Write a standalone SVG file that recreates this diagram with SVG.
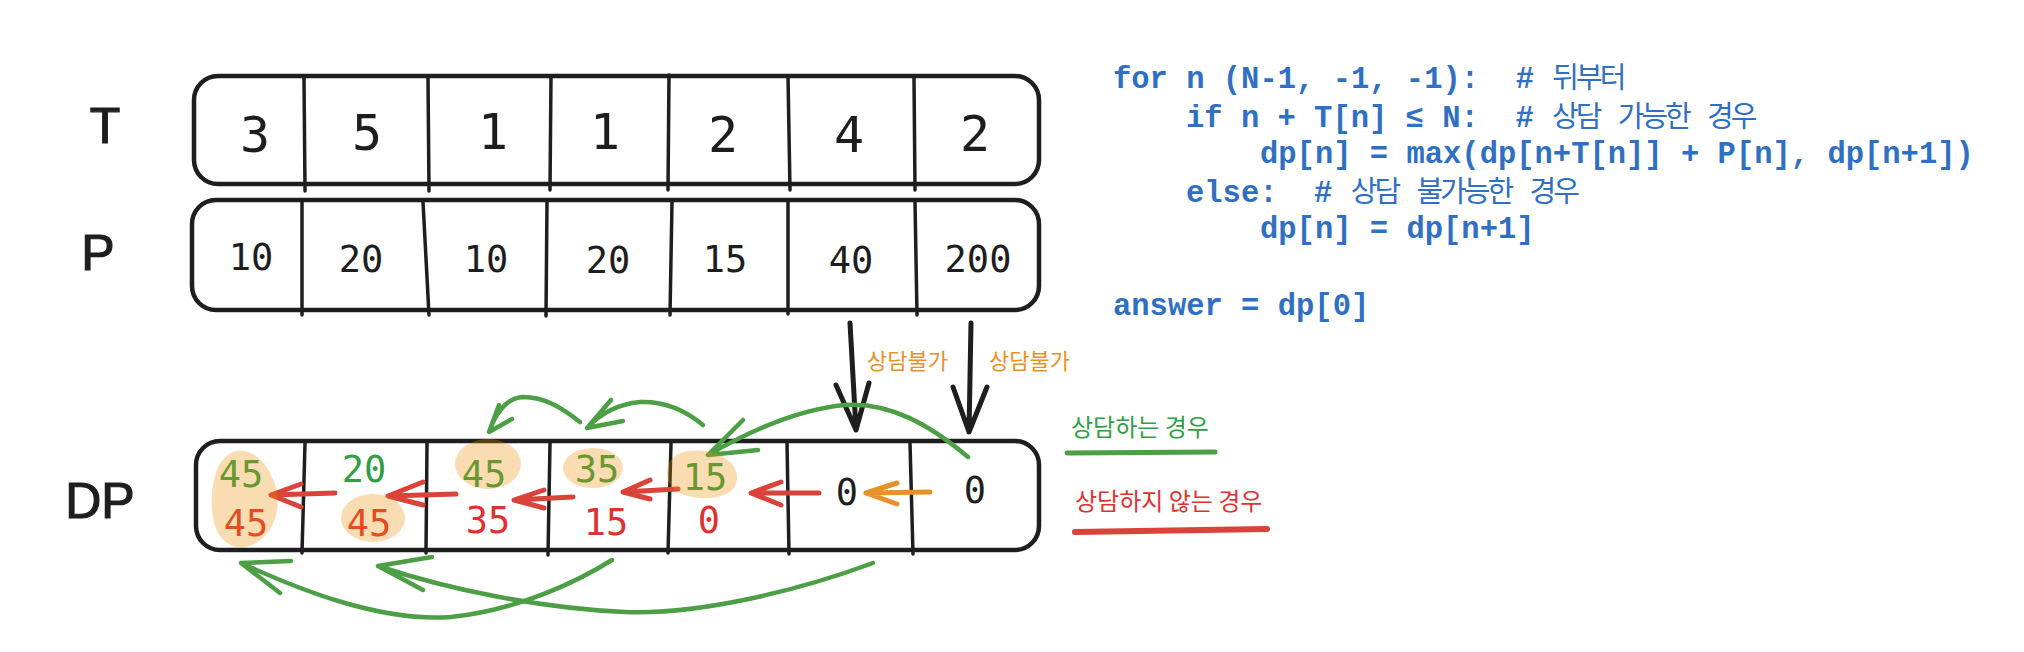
<svg xmlns="http://www.w3.org/2000/svg" width="2024" height="652" viewBox="0 0 2024 652">
<style>
.box{fill:none;stroke:#1e1e1e;stroke-width:4.5}
.div{stroke:#1e1e1e;stroke-width:3.5;stroke-linecap:round}
.lbl{font-family:"Liberation Sans","Noto Sans",sans-serif;font-size:50px;fill:#1e1e1e;stroke:#1e1e1e;stroke-width:1.2}
.tv{font-family:"DejaVu Sans Mono","Liberation Mono",monospace;font-size:50px;fill:#1e1e1e;text-anchor:middle}
.pv{font-family:"DejaVu Sans Mono","Liberation Mono",monospace;font-size:37px;fill:#1e1e1e;text-anchor:middle}
.dv{font-family:"DejaVu Sans Mono","Liberation Mono",monospace;font-size:37px;text-anchor:middle}
.g{fill:#2f9e44}.r{fill:#e03131}.k{fill:#1e1e1e}
.blob{fill:#f08c00;fill-opacity:0.3}
.code{font-family:"Liberation Mono","DejaVu Sans Mono","Noto Sans CJK KR",monospace;font-size:30.5px;fill:#2f6fc4;font-weight:bold;white-space:pre}
.ko{font-size:29px;letter-spacing:-3px;font-weight:normal;font-family:"Noto Sans CJK KR",sans-serif}
.hand{font-family:"Noto Sans CJK KR",sans-serif}
.ga{fill:none;stroke:#4c9f45;stroke-width:4.5;stroke-linecap:round;stroke-linejoin:round}
.ra{fill:none;stroke:#d9433a;stroke-width:5;stroke-linecap:round;stroke-linejoin:round}
.oa{fill:none;stroke:#e8912a;stroke-width:5;stroke-linecap:round;stroke-linejoin:round}
.ba{fill:none;stroke:#1e1e1e;stroke-width:5;stroke-linecap:round;stroke-linejoin:round}
</style>

<g id="label-T"><text class="lbl" x="105" y="143" text-anchor="middle">T</text></g>
<g id="label-P"><text class="lbl" x="98" y="270" text-anchor="middle">P</text></g>
<g id="label-DP"><text class="lbl" x="100" y="518" text-anchor="middle">DP</text></g>

<g id="array-T">
<rect class="box" x="194" y="76" width="845" height="108" rx="24"/>
<line class="div" x1="304" y1="78" x2="305" y2="191"/>
<line class="div" x1="428" y1="78" x2="429" y2="191"/>
<line class="div" x1="551" y1="76" x2="550" y2="190"/>
<line class="div" x1="669" y1="75" x2="668" y2="190"/>
<line class="div" x1="788" y1="76" x2="790" y2="190"/>
<line class="div" x1="914" y1="78" x2="915" y2="190"/>
<text class="tv" x="255" y="152">3</text>
<text class="tv" x="367" y="150">5</text>
<text class="tv" x="493" y="149">1</text>
<text class="tv" x="605" y="149">1</text>
<text class="tv" x="723" y="152">2</text>
<text class="tv" x="849" y="152">4</text>
<text class="tv" x="975" y="151">2</text>
</g>

<g id="array-P">
<rect class="box" x="192" y="200" width="847" height="110" rx="24"/>
<line class="div" x1="302" y1="202" x2="302" y2="315"/>
<line class="div" x1="423" y1="202" x2="429" y2="315"/>
<line class="div" x1="547" y1="202" x2="546" y2="316"/>
<line class="div" x1="672" y1="202" x2="670" y2="315"/>
<line class="div" x1="788" y1="202" x2="788" y2="314"/>
<line class="div" x1="915" y1="202" x2="917" y2="315"/>
<text class="pv" x="251" y="270">10</text>
<text class="pv" x="361" y="272">20</text>
<text class="pv" x="486" y="272">10</text>
<text class="pv" x="608" y="273">20</text>
<text class="pv" x="725" y="272">15</text>
<text class="pv" x="851" y="273">40</text>
<text class="pv" x="978" y="272">200</text>
</g>

<g id="array-DP">
<rect class="box" x="196" y="441" width="843" height="109" rx="24"/>
<line class="div" x1="305" y1="443" x2="302" y2="553"/>
<line class="div" x1="427" y1="443" x2="426" y2="553"/>
<line class="div" x1="550" y1="443" x2="548" y2="555"/>
<line class="div" x1="671" y1="443" x2="668" y2="553"/>
<line class="div" x1="787" y1="443" x2="789" y2="554"/>
<line class="div" x1="910" y1="443" x2="913" y2="554"/>
<text class="dv g" x="241" y="487">45</text>
<text class="dv r" x="246" y="536">45</text>
<text class="dv g" x="364" y="482">20</text>
<text class="dv r" x="369" y="536">45</text>
<text class="dv g" x="484" y="487">45</text>
<text class="dv r" x="488" y="533">35</text>
<text class="dv g" x="597" y="482">35</text>
<text class="dv r" x="606" y="535">15</text>
<text class="dv g" x="705" y="490">15</text>
<text class="dv r" x="709" y="533">0</text>
<text class="dv k" x="847" y="505">0</text>
<text class="dv k" x="975" y="503">0</text>
</g>

<g id="code">
<text class="code" xml:space="preserve" x="1113" y="88">for n (N-1, -1, -1):  # <tspan class="ko">뒤부터</tspan></text>
<text class="code" xml:space="preserve" x="1186" y="127">if n + T[n] ≤ N:  # <tspan class="ko">상담</tspan> <tspan class="ko">가능한</tspan> <tspan class="ko">경우</tspan></text>
<text class="code" xml:space="preserve" x="1260" y="163">dp[n] = max(dp[n+T[n]] + P[n], dp[n+1])</text>
<text class="code" xml:space="preserve" x="1186" y="202">else:  # <tspan class="ko">상담</tspan> <tspan class="ko">불가능한</tspan> <tspan class="ko">경우</tspan></text>
<text class="code" xml:space="preserve" x="1260" y="238">dp[n] = dp[n+1]</text>
<text class="code" xml:space="preserve" x="1113" y="315">answer = dp[0]</text>
</g>

<g id="labels-impossible">
<text class="hand" x="867" y="369" font-size="22" fill="#e8912a">상담불가</text>
<text class="hand" x="989" y="369" font-size="22" fill="#e8912a">상담불가</text>
</g>

<g id="legend">
<text class="hand" x="1071" y="436" font-size="24" fill="#2f9e44">상담하는 경우</text>
<path d="M1067 453 L1215 452" fill="none" stroke="#4c9f45" stroke-width="5" stroke-linecap="round"/>
<text class="hand" x="1075" y="510" font-size="24" fill="#e03131">상담하지 않는 경우</text>
<path d="M1075 532 L1267 529" fill="none" stroke="#d9433a" stroke-width="6" stroke-linecap="round"/>
</g>

<g id="connectors">
<path class="ba" d="M850 323 L856 430 M836 385 L856 430 L869 383"/>
<path class="ba" d="M971 323 L969 432 M953 387 L969 432 L987 387"/>
<path class="oa" d="M930 492 L866 493 M897 483 L866 493 L897 504"/>
<path class="ra" d="M819 493 L751 493 M781 482 L751 493 L781 505"/>
<path class="ra" d="M678 489 L623 492 M650 480 L623 492 L650 499"/>
<path class="ra" d="M573 497 L514 500 M544 490 L514 500 L544 508"/>
<path class="ra" d="M456 494 L388 496 M423 482 L388 496 L423 505"/>
<path class="ra" d="M335 493 L271 495 M301 484 L271 495 L301 507"/>
<path class="ga" d="M968 457 C930 425 890 402 845 405 C800 409 755 428 708 455 M743 420 L708 455 L758 450"/>
<path class="ga" d="M703 425 C685 410 665 401 640 402 C618 404 600 414 587 428 M611 400 L587 428 L623 421"/>
<path class="ga" d="M580 422 C562 408 545 397 523 397 C505 398 495 415 489 432 M499 405 L489 432 L512 419"/>
<path class="ga" d="M612 560 C580 580 520 610 451 617 C380 622 300 590 241 563 M291 561 L241 563 L280 593"/>
<path class="ga" d="M873 563 C800 590 700 615 625 612 C540 608 450 590 378 566 M432 557 L378 566 L423 590"/>
</g>

<g id="highlights">
<path class="blob" d="M238 451 C258 449 272 470 277 492 C281 515 270 538 250 546 C230 552 214 538 212 510 C210 482 218 453 238 451 Z"/>
<ellipse class="blob" cx="373" cy="518" rx="32" ry="24"/>
<ellipse class="blob" cx="488" cy="464" rx="33" ry="25"/>
<ellipse class="blob" cx="593" cy="468" rx="30" ry="20"/>
<path class="blob" d="M690 451 C715 448 735 460 737 475 C739 490 725 499 702 498 C680 497 667 488 667 474 C667 460 676 452 690 451 Z"/>
</g>
</svg>
